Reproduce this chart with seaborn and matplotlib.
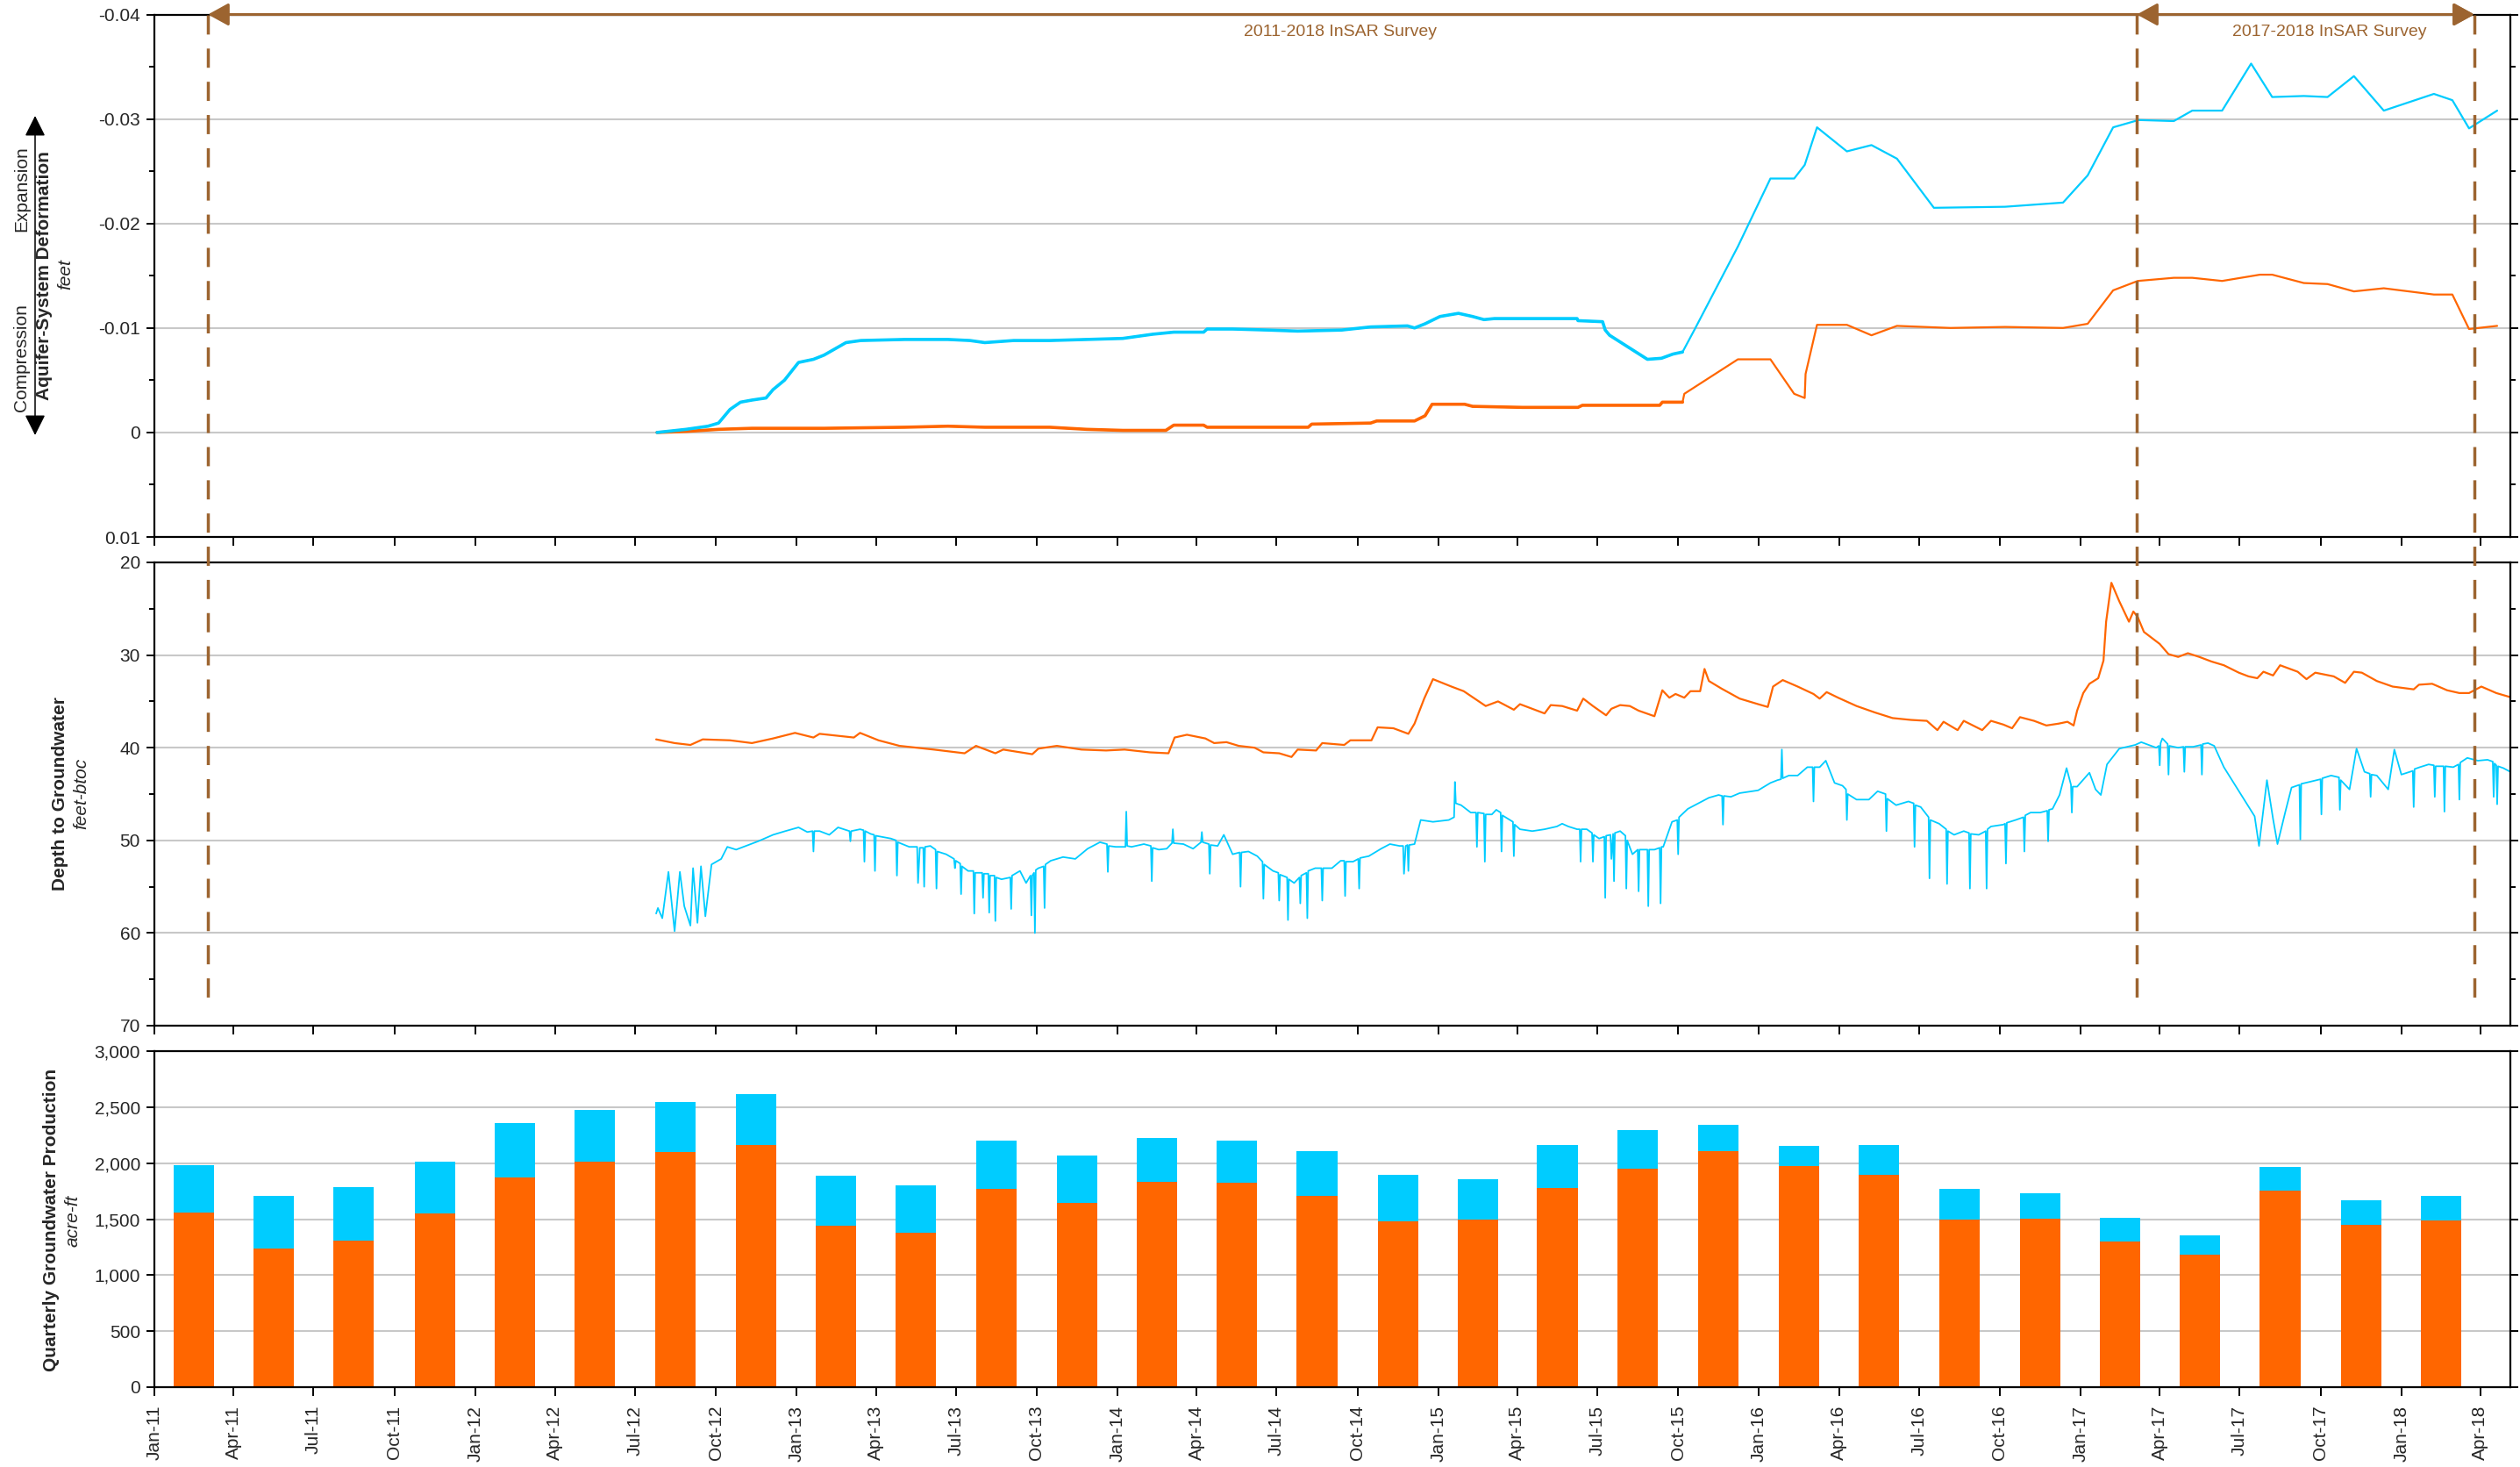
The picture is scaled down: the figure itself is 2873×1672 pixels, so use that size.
import numpy as np
import pandas as pd
import matplotlib
matplotlib.use("Agg")
import matplotlib.pyplot as plt
import matplotlib.dates as mdates
import matplotlib.ticker as mticker
from matplotlib.lines import Line2D
from matplotlib.patches import FancyArrowPatch
from matplotlib.transforms import blended_transform_factory
import seaborn as sns

ORIGIN = pd.Timestamp("2011-01-01")

# ---------------- Aquifer-system deformation (feet, negative = expansion) ----------------
# time in days since 2011-01-01
defo_a_day = [572, 605, 642, 680, 762, 854, 903, 945, 1019, 1061,
              1102, 1151, 1160, 1194, 1198, 1268, 1313, 1317, 1384, 1391,
              1434, 1446, 1454, 1491, 1500, 1557, 1620, 1625, 1699, 1713,
              1716, 1739, 1741, 1802, 1839, 1866, 1878, 1879, 1892, 1926,
              1954, 1983, 2044, 2106, 2172, 2200, 2229, 2257, 2298, 2319,
              2353, 2396, 2410, 2446, 2473, 2503, 2537, 2594, 2615, 2634,
              2666]
defo_a_ft = [0.0, -0.0001, -0.0003, -0.0004, -0.0004, -0.0005, -0.0006, -0.0005, -0.0005, -0.0003,
             -0.0002, -0.0002, -0.0007, -0.0007, -0.0005, -0.0005, -0.0005, -0.0008, -0.0009, -0.0011,
             -0.0011, -0.0016, -0.0027, -0.0027, -0.0025, -0.0024, -0.0024, -0.0026, -0.0026, -0.0026,
             -0.0029, -0.0029, -0.0037, -0.0070, -0.0070, -0.0037, -0.0033, -0.0056, -0.0103, -0.0103,
             -0.0093, -0.0102, -0.0100, -0.0101, -0.0100, -0.0104, -0.0136, -0.0145, -0.0148, -0.0148,
             -0.0145, -0.0151, -0.0151, -0.0143, -0.0142, -0.0135, -0.0138, -0.0132, -0.0132, -0.0099,
             -0.0102]

defo_b_day = [572, 605, 630, 642, 655, 667, 680, 696, 704, 717,
              733, 750, 762, 787, 804, 854, 903, 928, 945, 978,
              1019, 1061, 1102, 1136, 1160, 1194, 1198, 1227, 1268, 1301,
              1351, 1384, 1426, 1434, 1446, 1463, 1484, 1500, 1513, 1525,
              1572, 1619, 1620, 1648, 1651, 1656, 1699, 1715, 1728, 1739,
              1753, 1802, 1839, 1866, 1878, 1892, 1926, 1954, 1983, 2025,
              2106, 2172, 2200, 2229, 2258, 2298, 2319, 2353, 2386, 2410,
              2446, 2473, 2503, 2537, 2594, 2615, 2634, 2666]
defo_b_ft = [0.0, -0.0003, -0.0006, -0.0009, -0.0022, -0.0029, -0.0031, -0.0033, -0.0041, -0.0050,
             -0.0067, -0.0070, -0.0074, -0.0086, -0.0088, -0.0089, -0.0089, -0.0088, -0.0086, -0.0088,
             -0.0088, -0.0089, -0.0090, -0.0094, -0.0096, -0.0096, -0.0099, -0.0099, -0.0098, -0.0097,
             -0.0098, -0.0101, -0.0102, -0.0100, -0.0104, -0.0111, -0.0114, -0.0111, -0.0108, -0.0109,
             -0.0109, -0.0109, -0.0107, -0.0106, -0.0098, -0.0093, -0.0070, -0.0071, -0.0075, -0.0077,
             -0.0099, -0.0178, -0.0243, -0.0243, -0.0256, -0.0292, -0.0269, -0.0275, -0.0262, -0.0215,
             -0.0216, -0.0220, -0.0246, -0.0292, -0.0299, -0.0298, -0.0308, -0.0308, -0.0353, -0.0321,
             -0.0322, -0.0321, -0.0341, -0.0308, -0.0324, -0.0318, -0.0291, -0.0308]

# ---------------- Depth to groundwater (feet below top of casing) ----------------
gw_a_day = [571, 592, 610, 624, 655, 680, 704, 729, 750, 757,
            796, 803, 824, 848, 887, 922, 935, 957, 966, 999,
            1006, 1027, 1055, 1083, 1104, 1133, 1154, 1161, 1175, 1196,
            1206, 1220, 1234, 1252, 1262, 1280, 1294, 1301, 1322, 1329,
            1354, 1361, 1385, 1392, 1410, 1427, 1434, 1445, 1455, 1476,
            1490, 1515, 1529, 1547, 1554, 1582, 1589,
            1602, 1619, 1626, 1637, 1652, 1658, 1668, 1679, 1689, 1707,
            1716, 1724, 1731, 1741, 1748, 1759, 1764, 1769, 1783, 1804,
            1825, 1836, 1842, 1853, 1870, 1888, 1895, 1903, 1916, 1937,
            1958, 1978, 1999, 2017, 2029, 2036, 2052, 2059, 2080, 2090,
            2104, 2114, 2123, 2139, 2153, 2167, 2177, 2184, 2188, 2195,
            2202, 2212, 2218, 2221, 2227, 2236, 2247, 2252, 2257, 2264,
            2282, 2292, 2303, 2314, 2327, 2341, 2355, 2372, 2383, 2393,
            2400, 2411, 2419, 2439, 2449, 2459, 2480, 2493, 2503, 2512,
            2529, 2547, 2571, 2577, 2592, 2609, 2623, 2634, 2648, 2665,
            2683]
gw_a_depth = [39.1, 39.5, 39.7, 39.1, 39.2, 39.5, 39.0, 38.4, 38.9, 38.5,
              38.9, 38.4, 39.2, 39.8, 40.2, 40.6, 39.8, 40.6, 40.2, 40.7,
              40.1, 39.8, 40.2, 40.3, 40.2, 40.5, 40.6, 38.9, 38.6, 39.0,
              39.5, 39.4, 39.8, 40.0, 40.5, 40.6, 41.0, 40.2, 40.3, 39.5,
              39.7, 39.2, 39.2, 37.8, 37.9, 38.5, 37.4, 34.7, 32.6, 33.4,
              33.9, 35.5, 35.0, 35.9, 35.3, 36.3, 35.4,
              35.5, 36.0, 34.7, 35.5, 36.5, 35.8, 35.4, 35.5, 36.0, 36.6,
              33.8, 34.6, 34.2, 34.6, 33.9, 33.9, 31.5, 32.8, 33.6, 34.7,
              35.3, 35.6, 33.4, 32.7, 33.4, 34.2, 34.7, 34.0, 34.6, 35.5,
              36.2, 36.8, 37.0, 37.1, 38.1, 37.2, 38.1, 37.1, 38.1, 37.1,
              37.5, 37.9, 36.7, 37.1, 37.6, 37.4, 37.2, 37.6, 36.0, 34.1,
              33.1, 32.5, 30.6, 26.4, 22.2, 24.2, 26.4, 25.3, 25.9, 27.5,
              28.8, 29.9, 30.2, 29.8, 30.2, 30.7, 31.1, 31.9, 32.3, 32.5,
              31.8, 32.2, 31.1, 31.8, 32.6, 31.9, 32.3, 33.0, 31.8, 31.9,
              32.8, 33.4, 33.7, 33.2, 33.1, 33.8, 34.1, 34.1, 33.4, 34.1,
              34.6]

gw_b_day = [571, 573, 578, 585, 592, 598, 603, 610, 613, 618,
            622, 627, 634, 645, 652, 662, 673, 687, 704, 718,
            733, 743, 749, 750, 751, 757, 768, 778, 791, 792,
            793, 803, 807, 808, 809, 815, 819, 820, 821, 838,
            844, 845, 846, 859, 868, 869, 871, 875, 876, 877,
            883, 889, 890, 891, 901, 910, 911, 912, 917, 918,
            919, 926, 932, 933, 934, 942, 943, 944, 949, 950,
            951, 956, 957, 958, 964, 974, 975, 976, 985, 992,
            997, 998, 999, 1001, 1002, 1003, 1006, 1012, 1013, 1014,
            1020, 1034, 1048, 1062, 1076, 1084, 1085, 1086, 1094, 1105,
            1106, 1107, 1112, 1126, 1134, 1135, 1136, 1143, 1152, 1158,
            1159, 1160, 1171, 1182, 1191, 1192, 1193, 1200, 1201, 1202,
            1210, 1217, 1227, 1235, 1236, 1237, 1245, 1255, 1261, 1262,
            1263, 1273, 1279, 1280, 1281, 1289, 1290, 1291, 1297, 1303,
            1304, 1305, 1311, 1312, 1313, 1321, 1328, 1329, 1330, 1340,
            1350, 1354, 1355, 1356, 1364, 1370, 1371, 1372, 1382, 1396,
            1406, 1417, 1421, 1422, 1424, 1426, 1427, 1428, 1434, 1441,
            1455, 1473, 1479, 1480, 1481, 1487, 1498, 1504, 1505, 1506,
            1513, 1514, 1515, 1522, 1527, 1532, 1533, 1534, 1546, 1547,
            1548, 1554, 1568, 1582, 1596, 1602, 1609, 1619, 1622, 1623,
            1624, 1630, 1636, 1637, 1638, 1644, 1650, 1651, 1652, 1657,
            1658, 1660, 1661, 1662, 1668, 1674, 1675, 1676, 1682, 1688,
            1689, 1690, 1699, 1700, 1701, 1707, 1713, 1714, 1715, 1717,
            1727, 1733, 1734, 1735, 1745, 1759, 1769, 1780, 1784, 1785,
            1786, 1794, 1804, 1825, 1839, 1847, 1851, 1852, 1853, 1860,
            1870, 1881, 1887, 1888, 1889, 1895, 1902, 1912, 1921, 1925,
            1926, 1927, 1937, 1951, 1961, 1970, 1971, 1972, 1982, 1996,
            2002, 2003, 2004, 2010, 2019, 2020, 2021, 2031, 2039, 2040,
            2041, 2048, 2059, 2065, 2066, 2067, 2076, 2084, 2085, 2086,
            2090, 2104, 2106, 2107, 2108, 2118, 2127, 2128, 2129, 2135,
            2146, 2154, 2155, 2156, 2160, 2168, 2176, 2181, 2182, 2183,
            2188, 2202, 2209, 2215, 2222, 2236, 2254, 2261, 2278, 2281,
            2282, 2283, 2285, 2291, 2292, 2293, 2303, 2309, 2310, 2311,
            2320, 2329, 2330, 2331, 2337, 2344, 2355, 2390, 2395, 2404,
            2411, 2416, 2425, 2432, 2441, 2442, 2443, 2452, 2465, 2466,
            2467, 2477, 2486, 2487, 2488, 2498, 2506, 2515, 2521, 2522,
            2523, 2529, 2542, 2549, 2557, 2570, 2571, 2572, 2578, 2588,
            2594, 2595, 2596, 2605, 2606, 2607, 2616, 2622, 2623, 2624,
            2632, 2644, 2655, 2661, 2662, 2663, 2665, 2666, 2667, 2673,
            2683, 2685]
gw_b_depth = [57.9, 57.3, 58.4, 53.4, 59.8, 53.4, 57.1, 59.2, 53.0, 58.9,
              52.8, 58.2, 52.6, 52.0, 50.7, 51.0, 50.6, 50.1, 49.4, 49.0,
              48.6, 49.1, 49.0, 51.2, 49.0, 49.0, 49.4, 48.6, 49.0, 50.1,
              49.0, 48.8, 48.9, 52.3, 49.0, 49.3, 49.4, 53.3, 49.5, 49.8,
              50.0, 53.8, 50.2, 50.7, 50.7, 54.6, 50.8, 50.8, 55.0, 50.7,
              50.6, 51.0, 55.2, 51.2, 51.5, 52.0, 53.0, 52.2, 52.5, 55.8,
              52.8, 53.3, 53.3, 57.9, 53.5, 53.5, 56.2, 53.6, 53.6, 57.8,
              53.8, 53.8, 58.7, 54.0, 54.2, 54.0, 57.4, 53.8, 53.3, 54.6,
              53.8, 58.1, 53.8, 53.5, 60.0, 53.2, 53.0, 52.8, 57.3, 52.6,
              52.2, 51.8, 52.0, 50.9, 50.2, 50.4, 53.4, 50.6, 50.7, 50.7,
              46.9, 50.6, 50.7, 50.4, 50.6, 54.4, 50.8, 51.0, 50.9, 50.3,
              48.8, 50.3, 50.4, 50.9, 50.2, 49.1, 50.2, 50.4, 53.6, 50.5,
              50.6, 49.4, 51.5, 51.3, 55.0, 51.3, 51.2, 51.7, 52.3, 56.3,
              52.6, 53.3, 53.5, 56.5, 53.7, 54.0, 58.6, 54.2, 54.6, 54.0,
              56.8, 53.8, 53.5, 58.4, 53.3, 53.0, 53.0, 56.5, 53.0, 53.0,
              52.2, 52.2, 56.0, 52.3, 52.3, 52.0, 55.2, 51.9, 51.7, 50.9,
              50.4, 50.6, 50.6, 53.6, 50.6, 50.5, 53.3, 50.5, 50.4, 47.8,
              48.0, 47.8, 47.5, 43.7, 46.0, 46.2, 47.0, 47.0, 50.7, 47.0,
              47.1, 52.3, 47.2, 47.2, 46.7, 47.0, 51.2, 47.3, 48.0, 51.7,
              48.3, 48.8, 49.0, 48.8, 48.5, 48.2, 48.5, 48.8, 48.8, 52.3,
              48.8, 48.8, 49.2, 52.3, 49.4, 49.8, 49.6, 56.2, 49.5, 49.4,
              52.0, 49.3, 54.4, 49.2, 49.0, 49.5, 55.2, 50.0, 51.5, 51.0,
              55.5, 51.0, 51.0, 57.1, 51.0, 51.0, 50.8, 56.8, 50.7, 50.7,
              48.0, 47.8, 51.5, 47.5, 46.6, 45.9, 45.4, 45.1, 45.2, 48.3,
              45.2, 45.3, 44.9, 44.6, 43.8, 43.5, 43.4, 40.2, 43.3, 43.0,
              43.0, 42.1, 42.1, 45.8, 42.1, 42.1, 41.4, 43.8, 44.1, 44.5,
              47.8, 45.0, 45.6, 45.6, 44.7, 45.0, 49.0, 45.5, 46.2, 45.8,
              46.0, 50.7, 46.2, 46.4, 47.5, 54.1, 47.8, 48.2, 48.8, 54.7,
              49.0, 49.4, 49.0, 49.2, 55.2, 49.3, 49.4, 49.0, 55.2, 48.8,
              48.5, 48.3, 48.2, 52.5, 48.1, 47.8, 47.5, 51.2, 47.3, 47.0,
              47.0, 46.8, 50.1, 46.7, 46.6, 45.1, 42.2, 44.0, 47.0, 44.2,
              44.2, 42.7, 44.5, 45.1, 41.8, 40.1, 39.7, 39.4, 40.0, 39.8,
              41.9, 39.5, 39.0, 39.6, 42.9, 39.8, 40.0, 39.9, 42.6, 39.9,
              39.9, 39.7, 42.9, 39.6, 39.5, 39.8, 42.1, 47.4, 50.6, 43.5,
              47.7, 50.4, 46.9, 44.3, 44.0, 49.9, 43.9, 43.7, 43.4, 47.2,
              43.3, 43.0, 43.2, 46.7, 43.5, 44.5, 40.1, 42.6, 42.8, 45.3,
              42.9, 43.0, 44.5, 40.2, 42.9, 42.5, 46.4, 42.3, 42.1, 41.8,
              41.9, 45.3, 42.0, 42.0, 46.9, 42.0, 42.1, 41.8, 45.6, 41.6,
              41.1, 41.4, 41.3, 41.5, 45.3, 41.7, 41.9, 46.1, 42.0, 42.2,
              42.7, 45.3]

# ---------------- Quarterly groundwater production (acre-ft) ----------------
quarters = ["2011Q1", "2011Q2", "2011Q3", "2011Q4",
            "2012Q1", "2012Q2", "2012Q3", "2012Q4",
            "2013Q1", "2013Q2", "2013Q3", "2013Q4",
            "2014Q1", "2014Q2", "2014Q3", "2014Q4",
            "2015Q1", "2015Q2", "2015Q3", "2015Q4",
            "2016Q1", "2016Q2", "2016Q3", "2016Q4",
            "2017Q1", "2017Q2", "2017Q3", "2017Q4",
            "2018Q1"]
prod_a = [1562, 1234, 1310, 1552, 1875, 2013, 2096, 2159,
          1443, 1375, 1771, 1641, 1836, 1826, 1706, 1477,
          1495, 1781, 1953, 2104, 1974, 1896, 1500, 1505,
          1302, 1185, 1755, 1451, 1487]
prod_b = [422, 474, 476, 461, 479, 461, 453, 456,
          445, 427, 430, 427, 385, 375, 401, 416,
          364, 380, 341, 237, 177, 263, 268, 224,
          211, 167, 209, 221, 221]

# ---------------- InSAR survey windows ----------------
survey_starts = ["2011-03-03", "2017-03-06"]
survey_end = "2018-03-25"
survey_names = ["2011-2018 InSAR Survey", "2017-2018 InSAR Survey"]
survey_label_dates = ["2014-09-11", "2017-10-11"]

ORANGE = "#FF6600"
CYAN = "#00CCFF"
BROWN = "#9C6430"
GRID = "#C8C8C8"

sns.set_theme(style="white")
plt.rcParams["font.family"] = ["Liberation Sans", "DejaVu Sans"]
plt.rcParams["axes.unicode_minus"] = False

W_PX, H_PX = 2873, 1672
fig = plt.figure(figsize=(W_PX / 100, H_PX / 100), dpi=100)
fig.patch.set_facecolor("white")


def rect(top_px, bottom_px, left_px=176, right_px=2862):
    return [left_px / W_PX, 1 - bottom_px / H_PX,
            (right_px - left_px) / W_PX, (bottom_px - top_px) / H_PX]


ax1 = fig.add_axes(rect(16.5, 612))
ax2 = fig.add_axes(rect(641, 1169), sharex=ax1)
ax3 = fig.add_axes(rect(1198, 1581), sharex=ax1)


def as_dates(days):
    return ORIGIN + pd.to_timedelta(np.asarray(days), unit="D")


# deformation lines (dense extensometer record drawn slightly heavier)
for day, val, col in [(defo_a_day, defo_a_ft, ORANGE), (defo_b_day, defo_b_ft, CYAN)]:
    day = np.asarray(day)
    val = np.asarray(val)
    sns.lineplot(x=as_dates(day), y=val, ax=ax1, color=col, linewidth=1.6,
                 estimator=None, sort=False, legend=False)
    dense = day <= 1739
    sns.lineplot(x=as_dates(day[dense]), y=val[dense], ax=ax1, color=col, linewidth=2.6,
                 estimator=None, sort=False, legend=False)

# groundwater depth lines
sns.lineplot(x=as_dates(gw_a_day), y=gw_a_depth, ax=ax2, color=ORANGE, linewidth=1.6,
             estimator=None, sort=False, legend=False)
sns.lineplot(x=as_dates(gw_b_day), y=gw_b_depth, ax=ax2, color=CYAN, linewidth=1.3,
             estimator=None, sort=False, legend=False)

# stacked quarterly production bars, centred in each quarter
qidx = pd.PeriodIndex(quarters, freq="Q")
q_start = qidx.start_time
q_end = (qidx + 1).start_time
q_mid = mdates.date2num(q_start + (q_end - q_start) / 2)
ax3.bar(q_mid, prod_a, width=46, color=ORANGE, linewidth=0, zorder=2)
ax3.bar(q_mid, prod_b, bottom=prod_a, width=46, color=CYAN, linewidth=0, zorder=2)

# ---------------- axes styling ----------------
ax1.set_xlim(pd.Timestamp("2011-01-01"), pd.Timestamp("2018-05-05"))
ax3.xaxis.set_major_locator(mdates.MonthLocator(bymonth=[1, 4, 7, 10]))
ax3.xaxis.set_major_formatter(mdates.DateFormatter("%b-%y"))

ax1.set_ylim(0.01, -0.04)
ax1.yaxis.set_major_locator(mticker.MultipleLocator(0.01))
ax1.yaxis.set_minor_locator(mticker.MultipleLocator(0.005))
ax1.yaxis.set_major_formatter(mticker.FuncFormatter(
    lambda v, p: "0" if abs(v) < 1e-9 else f"{v:.2f}"))

ax2.set_ylim(70, 20)
ax2.yaxis.set_major_locator(mticker.MultipleLocator(10))
ax2.yaxis.set_minor_locator(mticker.MultipleLocator(5))

ax3.set_ylim(0, 3000)
ax3.yaxis.set_major_locator(mticker.MultipleLocator(500))
ax3.yaxis.set_major_formatter(mticker.FuncFormatter(lambda v, p: f"{int(round(v)):,}"))

for ax in (ax1, ax2, ax3):
    ax.set_xlabel("")
    ax.set_ylabel("")
    ax.set_facecolor("white")
    ax.set_axisbelow(True)
    ax.grid(axis="y", which="major", color=GRID, linewidth=1.5)
    ax.grid(axis="x", visible=False)
    for sp in ax.spines.values():
        sp.set_visible(True)
        sp.set_color("black")
        sp.set_linewidth(1.6)
    ax.tick_params(axis="y", which="major", left=True, right=True, direction="out",
                   length=6.5, width=1.4, color="black", labelsize=15, pad=5)
    ax.tick_params(axis="y", which="minor", left=True, right=True, direction="out",
                   length=4, width=1.4, color="black")
    ax.tick_params(axis="x", which="major", bottom=True, top=False, direction="out",
                   length=7, width=1.4, color="black", labelsize=15, pad=8)

for ax in (ax1, ax2):
    ax.tick_params(axis="x", labelbottom=False)
ax3.tick_params(axis="x", labelrotation=90)

# ---------------- survey markers ----------------
end_num = mdates.date2num(pd.Timestamp(survey_end))
trans = blended_transform_factory(ax1.transData, fig.transFigure)
for d in survey_starts + [survey_end]:
    xn = mdates.date2num(pd.Timestamp(d))
    fig.add_artist(Line2D([xn, xn], [1 - 16.5 / H_PX, 1 - 1152 / H_PX], transform=trans,
                          color=BROWN, linewidth=2.5, dashes=(6.3, 4.6), zorder=4))

for s in survey_starts:
    ax1.annotate("", xy=(end_num, -0.04), xytext=(mdates.date2num(pd.Timestamp(s)), -0.04),
                 xycoords="data", textcoords="data", annotation_clip=False, zorder=6,
                 arrowprops=dict(arrowstyle="<|-|>,head_length=1.0,head_width=0.55",
                                 color=BROWN, lw=2.2, shrinkA=0, shrinkB=0,
                                 mutation_scale=14.4))

for name, d in zip(survey_names, survey_label_dates):
    ax1.text(mdates.date2num(pd.Timestamp(d)), -0.0383, name, color=BROWN, fontsize=14,
             ha="center", va="center", zorder=6)

# ---------------- y-axis titles ----------------
def fx(px):
    return px / W_PX


def fy(px):
    return 1 - px / H_PX


fig.text(fx(24.5), fy(215), "Expansion", rotation=90, ha="center", va="center", fontsize=15)
fig.text(fx(24.5), fy(408), "Compression", rotation=90, ha="center", va="center", fontsize=15)
fig.add_artist(FancyArrowPatch((fx(40), fy(496)), (fx(40), fy(132)), transform=fig.transFigure,
                               arrowstyle="<|-|>,head_length=1.0,head_width=0.5",
                               mutation_scale=14.4, color="black", lw=1.1,
                               shrinkA=0, shrinkB=0))
fig.text(fx(51), fy(314), "Aquifer-System Deformation", rotation=90, ha="center", va="center",
         fontsize=15, fontweight="bold")
fig.text(fx(75), fy(313), "feet", rotation=90, ha="center", va="center", fontsize=15,
         fontstyle="italic")

fig.text(fx(68), fy(905), "Depth to Groundwater", rotation=90, ha="center", va="center",
         fontsize=15, fontweight="bold")
fig.text(fx(93), fy(904), "feet-btoc", rotation=90, ha="center", va="center", fontsize=15,
         fontstyle="italic")

fig.text(fx(58), fy(1390), "Quarterly Groundwater Production", rotation=90, ha="center",
         va="center", fontsize=15, fontweight="bold")
fig.text(fx(83), fy(1391), "acre-ft", rotation=90, ha="center", va="center", fontsize=15,
         fontstyle="italic")

fig.savefig("out.png", dpi=100, facecolor="white")
